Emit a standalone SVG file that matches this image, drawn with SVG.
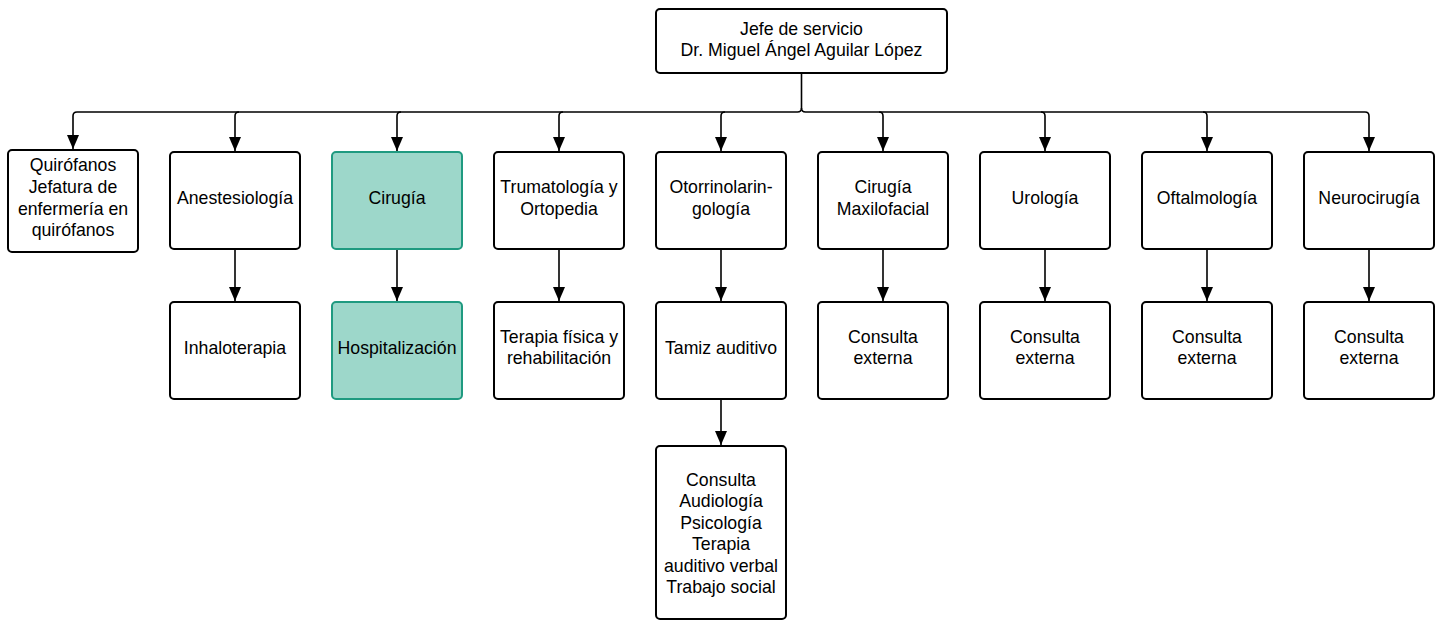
<svg xmlns="http://www.w3.org/2000/svg" width="1439" height="621" viewBox="0 0 1439 621">
<style>
.n{fill:#fff;stroke:#000;stroke-width:2}
.h{fill:#9dd7ca;stroke:#1f9a80;stroke-width:2}
text{font-family:"Liberation Sans",Arial,sans-serif;font-size:17.7px;fill:#000;text-anchor:middle;dominant-baseline:central}
.c{fill:none;stroke:#000;stroke-width:1.6}
</style>
<defs>
<marker id="b" markerWidth="12" markerHeight="14" refX="6" refY="14" markerUnits="userSpaceOnUse" viewBox="0 0 12 14">
<path d="M0,0 L12,0 L6,14 Z" fill="#000"/>
</marker>
</defs>
<g id="connectors">
<path class="c" d="M801.5,73 V108 Q801.5,112 797.5,112 H77 Q73,112 73,116 V149" marker-end="url(#b)"/>
<path class="c" d="M801.5,108 Q801.5,112 805.5,112 H1365 Q1369,112 1369,116 V151" marker-end="url(#b)"/>
<path class="c" d="M239,112 Q235,112 235,116 V151" marker-end="url(#b)"/>
<path class="c" d="M401,112 Q397,112 397,116 V151" marker-end="url(#b)"/>
<path class="c" d="M563,112 Q559,112 559,116 V151" marker-end="url(#b)"/>
<path class="c" d="M725,112 Q721,112 721,116 V151" marker-end="url(#b)"/>
<path class="c" d="M879,112 Q883,112 883,116 V151" marker-end="url(#b)"/>
<path class="c" d="M1041,112 Q1045,112 1045,116 V151" marker-end="url(#b)"/>
<path class="c" d="M1203,112 Q1207,112 1207,116 V151" marker-end="url(#b)"/>
<path class="c" d="M235,249 V301" marker-end="url(#b)"/>
<path class="c" d="M397,249 V301" marker-end="url(#b)"/>
<path class="c" d="M559,249 V301" marker-end="url(#b)"/>
<path class="c" d="M721,249 V301" marker-end="url(#b)"/>
<path class="c" d="M883,249 V301" marker-end="url(#b)"/>
<path class="c" d="M1045,249 V301" marker-end="url(#b)"/>
<path class="c" d="M1207,249 V301" marker-end="url(#b)"/>
<path class="c" d="M1369,249 V301" marker-end="url(#b)"/>
<path class="c" d="M721,399 V445" marker-end="url(#b)"/>
</g>
<g id="jefe"><rect class="n" x="656" y="9" width="291" height="64" rx="4"/><text x="801.5" y="29">Jefe de servicio</text><text x="801.5" y="50">Dr. Miguel Ángel Aguilar López</text></g>
<g id="quirofanos"><rect class="n" x="8" y="150" width="130" height="102" rx="4"/><text x="73" y="165">Quirófanos</text><text x="73" y="187">Jefatura de</text><text x="73" y="209">enfermería en</text><text x="73" y="230">quirófanos</text></g>
<g id="anestesiologia"><rect class="n" x="170" y="152" width="130" height="97" rx="4"/><text x="235" y="198">Anestesiología</text></g>
<g id="cirugia"><rect class="h" x="332" y="152" width="130" height="97" rx="4"/><text x="397" y="198">Cirugía</text></g>
<g id="trumatologia"><rect class="n" x="494" y="152" width="130" height="97" rx="4"/><text x="559" y="187">Trumatología y</text><text x="559" y="209">Ortopedia</text></g>
<g id="otorrino"><rect class="n" x="656" y="152" width="130" height="97" rx="4"/><text x="721" y="187">Otorrinolarin-</text><text x="721" y="209">gología</text></g>
<g id="maxilofacial"><rect class="n" x="818" y="152" width="130" height="97" rx="4"/><text x="883" y="187">Cirugía</text><text x="883" y="209">Maxilofacial</text></g>
<g id="urologia"><rect class="n" x="980" y="152" width="130" height="97" rx="4"/><text x="1045" y="198">Urología</text></g>
<g id="oftalmologia"><rect class="n" x="1142" y="152" width="130" height="97" rx="4"/><text x="1207" y="198">Oftalmología</text></g>
<g id="neurocirugia"><rect class="n" x="1304" y="152" width="130" height="97" rx="4"/><text x="1369" y="198">Neurocirugía</text></g>
<g id="inhaloterapia"><rect class="n" x="170" y="302" width="130" height="97" rx="4"/><text x="235" y="348">Inhaloterapia</text></g>
<g id="hospitalizacion"><rect class="h" x="332" y="302" width="130" height="97" rx="4"/><text x="397" y="348">Hospitalización</text></g>
<g id="terapia"><rect class="n" x="494" y="302" width="130" height="97" rx="4"/><text x="559" y="337">Terapia física y</text><text x="559" y="358">rehabilitación</text></g>
<g id="tamiz"><rect class="n" x="656" y="302" width="130" height="97" rx="4"/><text x="721" y="348">Tamiz auditivo</text></g>
<g id="consulta1"><rect class="n" x="818" y="302" width="130" height="97" rx="4"/><text x="883" y="337">Consulta</text><text x="883" y="358">externa</text></g>
<g id="consulta2"><rect class="n" x="980" y="302" width="130" height="97" rx="4"/><text x="1045" y="337">Consulta</text><text x="1045" y="358">externa</text></g>
<g id="consulta3"><rect class="n" x="1142" y="302" width="130" height="97" rx="4"/><text x="1207" y="337">Consulta</text><text x="1207" y="358">externa</text></g>
<g id="consulta4"><rect class="n" x="1304" y="302" width="130" height="97" rx="4"/><text x="1369" y="337">Consulta</text><text x="1369" y="358">externa</text></g>
<g id="audiologia"><rect class="n" x="656" y="446" width="130" height="173" rx="4"/><text x="721" y="480">Consulta</text><text x="721" y="501">Audiología</text><text x="721" y="523">Psicología</text><text x="721" y="544">Terapia</text><text x="721" y="566">auditivo verbal</text><text x="721" y="587">Trabajo social</text></g>
</svg>
